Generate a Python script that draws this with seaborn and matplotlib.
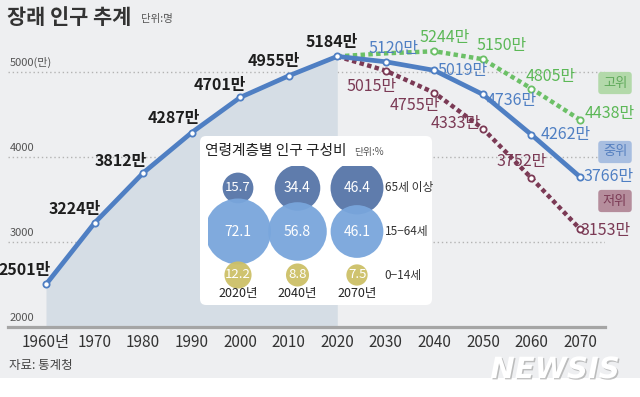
import matplotlib
matplotlib.use('Agg')
import matplotlib.pyplot as plt
from matplotlib.patches import FancyBboxPatch, Rectangle
from matplotlib.transforms import IdentityTransform
import matplotlib.patheffects as pe
import seaborn as sns
import pandas as pd

# =============================================================================
# Data (만 명)
years_hist = [1960, 1970, 1980, 1990, 2000, 2010, 2020]
pop_hist = [2501, 3224, 3812, 4287, 4701, 4955, 5184]
years_proj = [2020, 2030, 2040, 2050, 2060, 2070]
pop_mid = [5184, 5120, 5019, 4736, 4262, 3766]
pop_high = [5184, 5220, 5244, 5150, 4805, 4438]
pop_low = [5184, 5015, 4755, 4333, 3752, 3153]

xtick_years = [1960, 1970, 1980, 1990, 2000, 2010, 2020, 2030, 2040, 2050, 2060, 2070]
xtick_labels = ['1960년', '1970', '1980', '1990', '2000', '2010', '2020',
                '2030', '2040', '2050', '2060', '2070']
ytick_vals = [2000, 3000, 4000, 5000]
ytick_labels = ['2000', '3000', '4000', '5000(만)']

# 연령계층별 인구 구성비 (%)
age_years = ['2020년', '2040년', '2070년']
age_groups = ['65세 이상', '15−64세', '0−14세']
share_old = [15.7, 34.4, 46.4]
share_work = [72.1, 56.8, 46.1]
share_young = [12.2, 8.8, 7.5]

# =============================================================================
# Style
sns.set_style('white')
KR = ['Noto Sans CJK KR', 'DejaVu Sans']
NUM = ['Liberation Sans Narrow', 'Noto Sans CJK KR', 'DejaVu Sans']
plt.rcParams['font.family'] = KR

BG = '#eeeff1'
BLUE = '#4f7fc3'
GREEN = '#6cc067'
MAROON = '#7b3a55'
FILL = '#d5dde5'

W, H = 640, 397


def fx(px):
    return px / W


def fy(py):
    return 1 - py / H


fig = plt.figure(figsize=(6.4, 3.97), dpi=100)
fig.patch.set_facecolor(BG)

# main axes: 1960 -> 46px, 2070 -> 580px ; 2000 -> 327px, 5000 -> 72px
ax = fig.add_axes([fx(8), fy(327), fx(605) - fx(8), fy(20) - fy(327)])
ax.set_facecolor('none')
pxyr = (580 - 46) / 110
pxval = (327 - 72) / 3000
ax.set_xlim(1960 - 38 / pxyr, 2070 + 25 / pxyr)
ax.set_ylim(2000, 2000 + 307 / pxval)

for s in ['top', 'left', 'right']:
    ax.spines[s].set_visible(False)
ax.spines['bottom'].set_color('#a5a5a5')
ax.spines['bottom'].set_linewidth(2.3)
ax.spines['bottom'].set_zorder(6)

ax.set_xticks(xtick_years)
ax.set_xticklabels(xtick_labels, family=NUM, fontsize=11, color='#333333')
ax.tick_params(axis='x', direction='in', length=8, width=1, color='#8a8a8a', pad=5)
ax.set_yticks(ytick_vals)
ax.set_yticklabels([])
ax.tick_params(axis='y', length=0)
ax.yaxis.grid(True, linestyle=(0, (1, 2)), color='#b3b3b3', lw=1)
ax.xaxis.grid(False)

for v, lab in zip(ytick_vals, ytick_labels):
    ax.annotate(lab, xy=(0, v), xycoords=ax.get_yaxis_transform(),
                xytext=(2, 4), textcoords='offset pixels', ha='left', va='bottom',
                fontsize=8, color='#555555', family=NUM)

# shaded area under the past series
ax.fill_between(years_hist, pop_hist, 2000, color=FILL, lw=0, zorder=1)

df_hist = pd.DataFrame({'year': years_hist, 'pop': pop_hist})
df_mid = pd.DataFrame({'year': years_proj, 'pop': pop_mid})
df_high = pd.DataFrame({'year': years_proj, 'pop': pop_high})
df_low = pd.DataFrame({'year': years_proj, 'pop': pop_low})

dots = (0, (1, 0.75))
sns.lineplot(data=df_high, x='year', y='pop', ax=ax, color=GREEN, lw=3.2,
             linestyle=dots, dash_capstyle='butt', marker='o', markevery=[2, 3, 4, 5],
             markersize=4.5, markerfacecolor='white', markeredgecolor=GREEN,
             markeredgewidth=1.3, zorder=3)
sns.lineplot(data=df_low, x='year', y='pop', ax=ax, color=MAROON, lw=3.2,
             linestyle=dots, dash_capstyle='butt', marker='o', markevery=[1, 2, 3, 4, 5],
             markersize=4.5, markerfacecolor='white', markeredgecolor=MAROON,
             markeredgewidth=1.3, zorder=3)
sns.lineplot(data=df_mid, x='year', y='pop', ax=ax, color=BLUE, lw=3.4,
             marker='o', markevery=[1, 2, 3, 4, 5],
             markersize=4.5, markerfacecolor='white', markeredgecolor=BLUE,
             markeredgewidth=1.3, zorder=4)
sns.lineplot(data=df_hist, x='year', y='pop', ax=ax, color=BLUE, lw=3.4,
             marker='o', markersize=4.5, markerfacecolor='white',
             markeredgecolor=BLUE, markeredgewidth=1.3, zorder=5)
ax.set_xlabel('')
ax.set_ylabel('')

# value labels (offsets in pixels)
off_hist = [(-21, 14), (-20, 14), (-22, 12), (-18, 15), (-20, 12), (-15, 15), (-5, 14)]
off_mid = [None, (8, 13), (28, 0), (29, -6), (34, 0), (29, 0)]
off_high = [None, None, (10, 14), (19, 14), (19, 12), (30, 6)]
off_low = [None, (-14, -16), (-19, -13), (-27, 5), (-10, 17), (26, -2)]


def label_series(xs, ys, offs, color, weight):
    for x, y, o in zip(xs, ys, offs):
        if o is None:
            continue
        ax.annotate(f'{y}만', xy=(x, y), xytext=o, textcoords='offset pixels',
                    ha='center', va='center', fontsize=11.5, color=color,
                    family=NUM, fontweight=weight, zorder=8, annotation_clip=False)


label_series(years_hist, pop_hist, off_hist, '#1e1e1e', 'bold')
label_series(years_proj, pop_mid, off_mid, BLUE, 'normal')
label_series(years_proj, pop_high, off_high, '#5cb857', 'normal')
label_series(years_proj, pop_low, off_low, MAROON, 'normal')

# scenario tags
for txt, py, bg, fg in [('고위', 83, '#b3d9aa', '#5fa95a'),
                        ('중위', 152, '#a8bee0', '#5680c0'),
                        ('저위', 201, '#b58d9c', '#7b3a55')]:
    fig.text(fx(615), fy(py), txt, ha='center', va='center', fontsize=9.5,
             color=fg, bbox=dict(boxstyle='round,pad=0.35,rounding_size=0.25',
                                 fc=bg, ec='none'))

# title / source
fig.text(fx(7), fy(17), '장래 인구 추계', fontsize=15, fontweight='bold',
         color='#333333', va='center', ha='left')
fig.text(fx(141), fy(19), '단위:명', fontsize=7.5, color='#555555', va='center')
fig.text(fx(9), fy(366), '자료: 통계청', fontsize=9, color='#444444', va='center')

# =============================================================================
# inset: 연령계층별 인구 구성비
box = FancyBboxPatch((200, H - 305), 232, 169,
                     boxstyle='round,pad=0,rounding_size=6',
                     transform=IdentityTransform(), fc='white', ec='none', zorder=2)
fig.add_artist(box)
fig.text(fx(205), fy(151), '연령계층별 인구 구성비', fontsize=10.6, color='#222222',
         va='center', ha='left', zorder=3)
fig.text(fx(354), fy(152), '단위:%', fontsize=7, color='#555555', va='center', zorder=3)

ax2 = fig.add_axes([fx(208.25), fy(296.75), fx(178.5), 130.5 / H])
ax2.set_zorder(3)
ax2.patch.set_alpha(0)

rows = []
for g, vals in zip(age_groups, [share_old, share_work, share_young]):
    for yr, v in zip(age_years, vals):
        rows.append((yr, g, v))
df_age = pd.DataFrame(rows, columns=['year', 'group', 'share'])
df_age['xi'] = df_age['year'].map({y: i for i, y in enumerate(age_years)})
df_age['yi'] = df_age['group'].map({g: j for j, g in enumerate(age_groups)})

sns.scatterplot(data=df_age, x='xi', y='yi', size='share', sizes=(0, 2256),
                size_norm=(0, 72.1), hue='group',
                palette=['#5675a8', '#79a6dc', '#cdc067'],
                legend=False, edgecolor='none', alpha=0.95, ax=ax2)
ax2.set_xlim(-0.5, 2.5)
ax2.set_ylim(2.5, -0.5)
ax2.axis('off')

for _, r in df_age.iterrows():
    fs = 10 if r['share'] > 20 else 9.5
    ax2.text(r['xi'], r['yi'], f"{r['share']}", ha='center', va='center',
             fontsize=fs, color='white', family=NUM)

for j, g in enumerate(age_groups):
    ax2.annotate(g, xy=(1, j), xycoords=ax2.get_yaxis_transform(), xytext=(-2, 0),
                 textcoords='offset pixels', ha='left', va='center',
                 fontsize=8.5, color='#333333', annotation_clip=False)
for i, yr in enumerate(age_years):
    ax2.annotate(yr, xy=(i, 2), xytext=(0, -18), textcoords='offset pixels',
                 ha='center', va='center', fontsize=9, color='#222222',
                 family=NUM, annotation_clip=False)

# =============================================================================
# bottom strip + watermark
fig.add_artist(Rectangle((0, 0), 1, 19 / H, transform=fig.transFigure,
                         fc='white', ec='none', zorder=0))
fig.text(fx(555), fy(370), 'NEWSIS', fontsize=21, fontweight='bold', style='italic',
         family='DejaVu Sans', color='white', ha='center', va='center', zorder=5,
         path_effects=[pe.withSimplePatchShadow(offset=(1, -1), shadow_rgbFace='#9a9a9a',
                                                alpha=0.6)])

fig.savefig('out.png', dpi=100, facecolor=fig.get_facecolor())
